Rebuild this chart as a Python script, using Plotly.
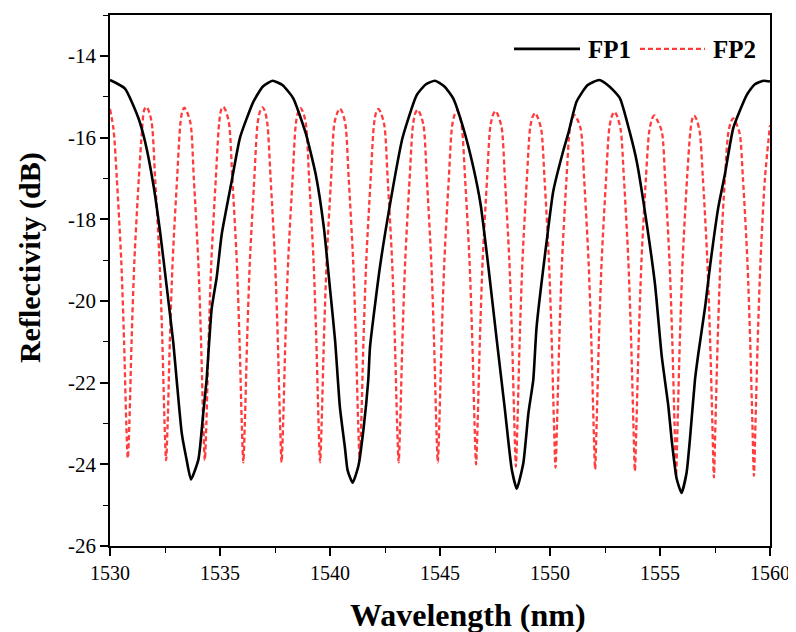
import plotly.graph_objects as go

# FP1 spectrum (wavelength nm, reflectivity dB)
fp1_x = [1530.00, 1530.68, 1531.29, 1531.59, 1531.97, 1532.27, 1532.58, 1532.88, 1533.03, 1533.26,
         1533.48, 1533.68, 1534.02, 1534.24, 1534.39, 1534.62, 1534.85, 1535.08, 1535.53, 1535.91,
         1536.52, 1536.95, 1537.39, 1537.85, 1538.33, 1538.90, 1539.35, 1539.72, 1540.00, 1540.23,
         1540.45, 1540.68, 1540.80, 1541.03, 1541.29, 1541.52, 1541.74, 1541.82, 1542.27, 1542.73,
         1543.30, 1543.94, 1544.35, 1544.77, 1545.20, 1545.60, 1546.06, 1546.52, 1546.85, 1547.20,
         1547.58, 1547.95, 1548.26, 1548.49, 1548.79, 1549.02, 1549.24, 1549.39, 1549.85, 1550.15,
         1550.60, 1550.83, 1551.21, 1551.70, 1552.24, 1552.70, 1553.18, 1553.64, 1553.94, 1554.24,
         1554.77, 1555.08, 1555.38, 1555.53, 1555.76, 1555.98, 1556.21, 1556.36, 1556.59, 1556.74,
         1557.05, 1557.27, 1557.65, 1557.95, 1558.33, 1558.94, 1559.30, 1559.70, 1560.00]
fp1_y = [-14.59, -14.80, -15.52, -16.09, -17.15, -18.28, -19.66, -21.04, -21.93, -23.23,
         -23.88, -24.37, -23.88, -22.74, -21.93, -20.20, -19.42, -18.36, -17.07, -16.00,
         -15.12, -14.75, -14.61, -14.72, -15.04, -15.90, -16.90, -18.20, -19.70, -20.96,
         -22.60, -23.60, -24.15, -24.45, -24.04, -23.15, -21.93, -21.12, -19.17, -17.63,
         -16.00, -14.96, -14.70, -14.61, -14.75, -15.04, -15.77, -16.74, -17.65, -19.17,
         -20.96, -22.66, -24.12, -24.60, -23.96, -22.74, -21.93, -20.64, -18.53, -17.31,
         -16.33, -15.90, -15.12, -14.72, -14.59, -14.75, -15.04, -15.90, -16.58, -17.55,
         -19.58, -21.36, -22.58, -23.40, -24.36, -24.70, -24.20, -23.39, -21.93, -21.30,
         -20.15, -19.17, -17.71, -16.90, -15.77, -14.96, -14.70, -14.61, -14.63]

# FP2 spectrum (one row per fringe: trough ... peak)
fp2_x = [1530.00, 1530.16, 1530.31, 1530.51, 1530.64, 1530.74, 1530.81, 1530.88, 1530.98, 1531.11, 1531.31, 1531.46, 1531.55, 1531.65, 1531.75,
         1531.90, 1532.05, 1532.25, 1532.38, 1532.48, 1532.55, 1532.62, 1532.72, 1532.85, 1533.05, 1533.20, 1533.29, 1533.38, 1533.48,
         1533.66, 1533.81, 1534.01, 1534.14, 1534.24, 1534.31, 1534.38, 1534.48, 1534.61, 1534.81, 1534.96, 1535.05, 1535.15, 1535.25,
         1535.41, 1535.56, 1535.76, 1535.89, 1535.99, 1536.06, 1536.13, 1536.23, 1536.36, 1536.56, 1536.71, 1536.83, 1536.93, 1537.03,
         1537.15, 1537.30, 1537.50, 1537.63, 1537.73, 1537.80, 1537.87, 1537.97, 1538.10, 1538.30, 1538.45, 1538.56, 1538.66, 1538.76,
         1538.90, 1539.05, 1539.25, 1539.38, 1539.48, 1539.55, 1539.62, 1539.72, 1539.85, 1540.05, 1540.20, 1540.35, 1540.45, 1540.55,
         1540.70, 1540.85, 1541.05, 1541.18, 1541.28, 1541.35, 1541.42, 1541.52, 1541.65, 1541.85, 1542.00, 1542.10, 1542.20, 1542.30,
         1542.47, 1542.62, 1542.82, 1542.95, 1543.05, 1543.12, 1543.19, 1543.29, 1543.42, 1543.62, 1543.77, 1543.88, 1543.98, 1544.08,
         1544.25, 1544.40, 1544.60, 1544.73, 1544.83, 1544.90, 1544.97, 1545.07, 1545.20, 1545.40, 1545.55, 1545.67, 1545.77, 1545.87,
         1545.99, 1546.14, 1546.34, 1546.47, 1546.57, 1546.64, 1546.71, 1546.81, 1546.94, 1547.14, 1547.29, 1547.42, 1547.52, 1547.62,
         1547.80, 1547.95, 1548.15, 1548.28, 1548.38, 1548.45, 1548.52, 1548.62, 1548.75, 1548.95, 1549.10, 1549.22, 1549.32, 1549.42,
         1549.60, 1549.75, 1549.95, 1550.08, 1550.18, 1550.25, 1550.32, 1550.42, 1550.55, 1550.75, 1550.90, 1551.02, 1551.12, 1551.22,
         1551.40, 1551.55, 1551.75, 1551.88, 1551.98, 1552.05, 1552.12, 1552.22, 1552.35, 1552.55, 1552.70, 1552.83, 1552.93, 1553.03,
         1553.21, 1553.36, 1553.56, 1553.69, 1553.79, 1553.86, 1553.93, 1554.03, 1554.16, 1554.36, 1554.51, 1554.64, 1554.74, 1554.84,
         1555.08, 1555.23, 1555.43, 1555.56, 1555.66, 1555.73, 1555.80, 1555.90, 1556.03, 1556.23, 1556.38, 1556.47, 1556.55, 1556.65,
         1556.80, 1556.95, 1557.15, 1557.28, 1557.38, 1557.45, 1557.52, 1557.62, 1557.75, 1557.95, 1558.10, 1558.23, 1558.33, 1558.43,
         1558.62, 1558.77, 1558.97, 1559.10, 1559.20, 1559.27, 1559.34, 1559.44, 1559.57, 1559.77, 1560.00]
fp2_y = [-15.30, -15.80, -17.00, -19.00, -21.00, -23.00, -23.85, -23.00, -21.00, -19.00, -17.00, -15.80, -15.33, -15.25, -15.33,
         -15.65, -17.00, -19.00, -21.00, -23.00, -23.90, -23.00, -21.00, -19.00, -17.00, -15.65, -15.35, -15.27, -15.35,
         -15.65, -17.00, -19.00, -21.00, -23.00, -23.90, -23.00, -21.00, -19.00, -17.00, -15.65, -15.33, -15.25, -15.33,
         -15.65, -17.00, -19.00, -21.00, -23.00, -23.95, -23.00, -21.00, -19.00, -17.00, -15.65, -15.34, -15.26, -15.34,
         -15.65, -17.00, -19.00, -21.00, -23.00, -23.95, -23.00, -21.00, -19.00, -17.00, -15.65, -15.36, -15.28, -15.36,
         -15.65, -17.00, -19.00, -21.00, -23.00, -23.95, -23.00, -21.00, -19.00, -17.00, -15.65, -15.37, -15.29, -15.37,
         -15.67, -17.00, -19.00, -21.00, -23.00, -23.90, -23.00, -21.00, -19.00, -17.00, -15.67, -15.38, -15.30, -15.38,
         -15.70, -17.00, -19.00, -21.00, -23.00, -23.95, -23.00, -21.00, -19.00, -17.00, -15.70, -15.40, -15.32, -15.40,
         -15.70, -17.00, -19.00, -21.00, -23.00, -23.95, -23.00, -21.00, -19.00, -17.00, -15.72, -15.43, -15.35, -15.43,
         -15.72, -17.00, -19.00, -21.00, -23.00, -24.00, -23.00, -21.00, -19.00, -17.00, -15.72, -15.43, -15.35, -15.43,
         -15.75, -17.00, -19.00, -21.00, -23.00, -24.05, -23.00, -21.00, -19.00, -17.00, -15.75, -15.48, -15.40, -15.48,
         -15.80, -17.00, -19.00, -21.00, -23.00, -24.08, -23.00, -21.00, -19.00, -17.00, -15.80, -15.53, -15.45, -15.53,
         -15.80, -17.00, -19.00, -21.00, -23.00, -24.12, -23.00, -21.00, -19.00, -17.00, -15.75, -15.45, -15.37, -15.45,
         -15.80, -17.00, -19.00, -21.00, -23.00, -24.16, -23.00, -21.00, -19.00, -17.00, -15.85, -15.54, -15.46, -15.54,
         -15.85, -17.00, -19.00, -21.00, -23.00, -24.28, -23.00, -21.00, -19.00, -17.00, -15.85, -15.54, -15.46, -15.54,
         -15.85, -17.00, -19.00, -21.00, -23.00, -24.32, -23.00, -21.00, -19.00, -17.00, -15.90, -15.61, -15.53, -15.61,
         -15.90, -17.00, -19.00, -21.00, -23.00, -24.28, -23.00, -21.00, -19.00, -17.00, -15.70]

x_ticks = [1530, 1535, 1540, 1545, 1550, 1555, 1560]
y_ticks = [-26, -24, -22, -20, -18, -16, -14]
series_names = ["FP1", "FP2"]
x_title = "Wavelength (nm)"
y_title = "Reflectivity (dB)"

BLACK = "#000000"
RED = "#ff3b3b"
FONT = "Liberation Serif"

fig = go.Figure()
fig.add_trace(go.Scatter(x=fp2_x, y=fp2_y, mode="lines", name=series_names[1],
                         line=dict(color=RED, width=2.3, dash="5px,3px", shape="spline", smoothing=0.8),
                         showlegend=False))
fig.add_trace(go.Scatter(x=fp1_x, y=fp1_y, mode="lines", name=series_names[0],
                         line=dict(color=BLACK, width=2.6, shape="spline", smoothing=0.5),
                         showlegend=False))

# plot area in page pixels (the page body adds an 8px offset)
OFF = 8
L, R, T, B = 110, 770, 13, 546
W, H = 796 - OFF, 632 - OFF
pw, ph = R - L, B - T

def px(xp):
    return (xp - L) / pw

def py(yp):
    return (B - yp) / ph

# custom legend
fig.add_shape(type="line", xref="paper", yref="paper", x0=px(514), x1=px(580), y0=py(47), y1=py(47),
              line=dict(color=BLACK, width=2.6))
fig.add_shape(type="line", xref="paper", yref="paper", x0=px(640), x1=px(705), y0=py(47), y1=py(47),
              line=dict(color=RED, width=2.3, dash="5px,3px"))
fig.add_annotation(xref="paper", yref="paper", x=px(586), y=py(48), xanchor="left", yanchor="middle",
                   text="<b>%s</b>" % series_names[0], showarrow=False,
                   font=dict(family=FONT, size=25, color=BLACK))
fig.add_annotation(xref="paper", yref="paper", x=px(711), y=py(48), xanchor="left", yanchor="middle",
                   text="<b>%s</b>" % series_names[1], showarrow=False,
                   font=dict(family=FONT, size=25, color=BLACK))

# axis titles
fig.add_annotation(xref="paper", yref="paper", x=px(468), y=py(615), xanchor="center", yanchor="middle",
                   text="<b>%s</b>" % x_title, showarrow=False, font=dict(family=FONT, size=32, color=BLACK))
fig.add_annotation(xref="paper", yref="paper", x=px(30), y=py(257), xanchor="center", yanchor="middle",
                   text="<b>%s</b>" % y_title, showarrow=False, textangle=-90,
                   font=dict(family=FONT, size=30, color=BLACK))

axis_common = dict(showline=True, linecolor=BLACK, linewidth=1.6, mirror=True, showgrid=False, zeroline=False,
                   ticks="outside", ticklen=8, tickwidth=1.6, tickcolor=BLACK)

fig.update_xaxes(range=[1530, 1560], tickvals=x_ticks, ticktext=[str(v) for v in x_ticks],
                 tickfont=dict(family=FONT, size=20, color=BLACK),
                 minor=dict(dtick=2.5, tick0=1530, ticks="outside", ticklen=5, tickwidth=1.4, tickcolor=BLACK),
                 **axis_common)
fig.update_yaxes(range=[-26, -13], tickvals=y_ticks, ticktext=[str(v) for v in y_ticks],
                 tickfont=dict(family=FONT, size=21, color=BLACK),
                 minor=dict(dtick=1, tick0=-26, ticks="outside", ticklen=5, tickwidth=1.4, tickcolor=BLACK),
                 **axis_common)

fig.update_layout(width=W, height=H,
                  margin=dict(l=L - OFF, r=(796 - R), t=T - OFF, b=(632 - B)),
                  plot_bgcolor="white", paper_bgcolor="white", showlegend=False)

fig.write_html("out.html")
